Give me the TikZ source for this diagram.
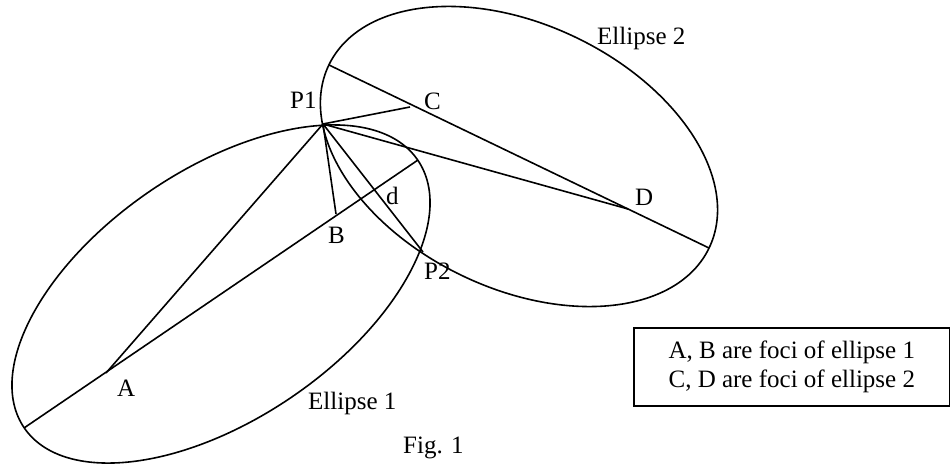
\documentclass[tikz,border=0pt]{standalone}
\usepackage{fontspec}
\setmainfont{Liberation Serif}
\begin{document}
\begin{tikzpicture}[x=1pt,y=1pt,
  lab/.style={font=\fontsize{25}{29}\selectfont, inner sep=0pt, anchor=base west},
  ln/.style={line width=1.6pt, line join=round}]
\useasboundingbox (0,0) rectangle (950,465);
% key points
\coordinate (E1c) at (221,171);
\coordinate (E2c) at (519,308.5);
\coordinate (P1) at (323,341);
\coordinate (P2) at (423,213);
\coordinate (A) at (106,92);
\coordinate (B) at (336,251);
\coordinate (C) at (410,358);
\coordinate (D) at (628,256);
\coordinate (E1a) at (24,37);
\coordinate (E1b) at (418,305);
\coordinate (E2a) at (329,400);
\coordinate (E2b) at (709,217);
% ellipses
\draw[ln, rotate around={34.2:(E1c)}] (E1c) ellipse [x radius=238pt, y radius=125pt];
\draw[ln, rotate around={-25.7:(E2c)}] (E2c) ellipse [x radius=211pt, y radius=132pt];
% axes
\draw[ln] (E1a) -- (E1b);
\draw[ln] (E2a) -- (E2b);
% connectors from P1
\draw[ln] (P1) -- (A);
\draw[ln] (P1) -- (B);
\draw[ln] (P1) -- (C);
\draw[ln] (P1) -- (D);
\draw[ln] (P1) -- (P2);
% labels
\node[lab] (lP1) at (290,356) {P1};
\node[lab] (lC) at (424,355) {C};
\node[lab] (lD) at (635,259) {D};
\node[lab] (lB) at (328,221) {B};
\node[lab] (ld) at (386,260) {d};
\node[lab] (lP2) at (424,185) {P2};
\node[lab] (lA) at (117,68) {A};
\node[lab] (lE1) at (308,55) {Ellipse 1};
\node[lab] (lE2) at (597,420) {Ellipse 2};
\node[lab] (lfig) at (403,11) {Fig. 1};
% legend box
\node[draw, line width=1.6pt, minimum width=316pt, minimum height=78pt, align=center,
      font=\fontsize{25}{29}\selectfont, anchor=north west, inner sep=0pt] (box) at (633,138)
  {A, B are foci of ellipse 1\\C, D are foci of ellipse 2};
\end{tikzpicture}
\end{document}
